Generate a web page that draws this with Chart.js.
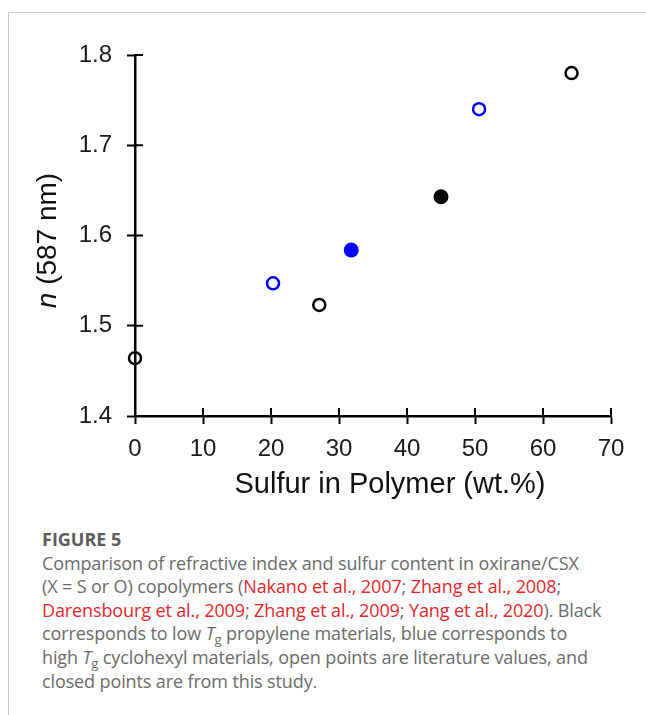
<!DOCTYPE html>
<html>
<head>
<meta charset="utf-8">
<script src="https://cdn.jsdelivr.net/npm/chart.js@4.4.0/dist/chart.umd.min.js"></script>
<style>
  html, body { margin: 0; padding: 0; background: #fff; }
  body { width: 646px; height: 715px; position: relative; overflow: hidden; }
  #frameTop { position: absolute; left: 8px; top: 12px; width: 640px; height: 0; border-top: 1px solid #c8c8c8; }
  #frameLeft { position: absolute; left: 8px; top: 12px; width: 0; height: 703px; border-left: 1px solid #c8c8c8; }
  #chartBox { position: absolute; left: 0; top: 0; width: 646px; height: 520px; }
  #caption { position: absolute; left: 42px; top: 528px; font-family: "Open Sans", Lato, sans-serif; font-size: 18px; line-height: 23.6px; color: #6b6b6b; letter-spacing: -0.12px; }
  #caption .fig { font-weight: bold; color: #5c5c5c; letter-spacing: 0; }
  #caption .ln { white-space: nowrap; }
  #caption .ref { color: #e2282d; }
  #caption sub { font-size: 13px; line-height: 0; vertical-align: -4px; }
</style>
</head>
<body>
<div id="frameTop"></div>
<div id="frameLeft"></div>
<div id="chartBox"><canvas id="sulfurChart" width="646" height="520"></canvas></div>
<div id="caption">
  <div class="ln fig">FIGURE 5</div>
  <div class="ln">Comparison of refractive index and sulfur content in oxirane/CSX</div>
  <div class="ln">(X = S or O) copolymers (<span class="ref">Nakano et al., 2007</span>; <span class="ref">Zhang et al., 2008</span>;</div>
  <div class="ln"><span class="ref">Darensbourg et al., 2009</span>; <span class="ref">Zhang et al., 2009</span>; <span class="ref">Yang et al., 2020</span>). Black</div>
  <div class="ln">corresponds to low <i>T</i><sub>g</sub> propylene materials, blue corresponds to</div>
  <div class="ln">high <i>T</i><sub>g</sub> cyclohexyl materials, open points are literature values, and</div>
  <div class="ln">closed points are from this study.</div>
</div>
<script>
// values
var blackOpenX = [0, 27.1, 64.2];
var blackOpenY = [1.464, 1.523, 1.780];
var blueOpenX = [20.3, 50.6];
var blueOpenY = [1.547, 1.740];
var blackClosedX = [45.0];
var blackClosedY = [1.643];
var blueClosedX = [31.8];
var blueClosedY = [1.584];

var xTicks = [0, 10, 20, 30, 40, 50, 60, 70];
var yTicks = [1.4, 1.5, 1.6, 1.7, 1.8];
var xTitle = 'Sulfur in Polymer (wt.%)';
var yTitleItalic = 'n';
var yTitleRest = ' (587 nm)';

function toPoints(xs, ys) {
    var pts = [];
    for (var i = 0; i < xs.length; i++) {
        pts.push({x: xs[i], y: ys[i]});
    }
    return pts;
}

// ticks that cross the axis line, and both axis titles (y one has an italic n)
var crossTicks = {
    id: 'crossTicks',
    afterDraw(chart) {
        var ctx = chart.ctx;
        var xs = chart.scales.x, ys = chart.scales.y;
        var area = chart.chartArea;
        ctx.save();
        ctx.strokeStyle = '#000';
        ctx.lineWidth = 2;
        ctx.beginPath();
        for (var i = 0; i < xTicks.length; i++) {
            var px = xs.getPixelForValue(xTicks[i]);
            ctx.moveTo(px, area.bottom);
            ctx.lineTo(px, area.bottom - 8);
        }
        for (var j = 0; j < yTicks.length; j++) {
            var py = ys.getPixelForValue(yTicks[j]);
            ctx.moveTo(area.left, py);
            ctx.lineTo(area.left + 8, py);
        }
        ctx.stroke();

        var fNorm = '28px "Liberation Sans", Arial, sans-serif';
        var fItal = 'italic 28px "Liberation Sans", Arial, sans-serif';
        ctx.fillStyle = '#111';
        ctx.textBaseline = 'middle';

        // x title sits a bit right of the plot centre in the original
        ctx.font = '29px "Liberation Sans", Arial, sans-serif';
        ctx.textAlign = 'center';
        ctx.fillText(xTitle, 390, area.bottom + 69);

        ctx.translate(48, (area.top + area.bottom) / 2 + 5);
        ctx.rotate(-Math.PI / 2);
        ctx.font = fItal;
        var w1 = ctx.measureText(yTitleItalic).width;
        ctx.font = fNorm;
        var w2 = ctx.measureText(yTitleRest).width;
        var start = -(w1 + w2) / 2;
        ctx.textAlign = 'left';
        ctx.font = fItal;
        ctx.fillText(yTitleItalic, start, 0);
        ctx.font = fNorm;
        ctx.fillText(yTitleRest, start + w1, 0);
        ctx.restore();
    }
};

var ctx = document.getElementById('sulfurChart').getContext('2d');
var chart = new Chart(ctx, {
    type: 'scatter',
    data: {
        datasets: [{
            label: 'black open',
            data: toPoints(blackOpenX, blackOpenY),
            pointStyle: 'circle',
            pointRadius: 6,
            pointBorderWidth: 2.5,
            borderColor: '#000',
            backgroundColor: 'rgba(0,0,0,0)',
            clip: false
        }, {
            label: 'blue open',
            data: toPoints(blueOpenX, blueOpenY),
            pointRadius: 6,
            pointBorderWidth: 2.5,
            borderColor: '#0000ff',
            backgroundColor: 'rgba(0,0,0,0)',
            clip: false
        }, {
            label: 'black closed',
            data: toPoints(blackClosedX, blackClosedY),
            pointRadius: 7.5,
            pointBorderWidth: 0,
            borderColor: '#000',
            backgroundColor: '#000',
            clip: false
        }, {
            label: 'blue closed',
            data: toPoints(blueClosedX, blueClosedY),
            pointRadius: 7.5,
            pointBorderWidth: 0,
            borderColor: '#0000ff',
            backgroundColor: '#0000ff',
            clip: false
        }]
    },
    options: {
        responsive: false,
        animation: false,
        layout: { padding: { left: 0, top: 55, right: 35, bottom: 0 } },
        plugins: {
            legend: { display: false },
            tooltip: { enabled: false }
        },
        scales: {
            x: {
                type: 'linear',
                min: 0,
                max: 70,
                afterFit: function(scale) { scale.height = 104; },
                afterBuildTicks: function(scale) {
                    scale.ticks = xTicks.map(function(v) { return {value: v}; });
                },
                border: { display: true, color: '#000', width: 2.5 },
                grid: { drawOnChartArea: false, drawTicks: true, tickLength: 8, tickColor: '#000', tickWidth: 2 },
                ticks: {
                    color: '#1a1a1a',
                    padding: 11,
                    font: { family: '"Liberation Sans", Arial, sans-serif', size: 24 }
                },
                title: { display: false }
            },
            y: {
                type: 'linear',
                min: 1.4,
                max: 1.8,
                afterFit: function(scale) { scale.width = 135; },
                afterBuildTicks: function(scale) {
                    scale.ticks = yTicks.map(function(v) { return {value: v}; });
                },
                border: { display: true, color: '#000', width: 2.5 },
                grid: { drawOnChartArea: false, drawTicks: true, tickLength: 8, tickColor: '#000', tickWidth: 2 },
                ticks: {
                    color: '#1a1a1a',
                    padding: 15,
                    font: { family: '"Liberation Sans", Arial, sans-serif', size: 24 },
                    callback: function(v) { return v.toFixed(1); }
                }
            }
        }
    },
    plugins: [crossTicks]
});
</script>
</body>
</html>
